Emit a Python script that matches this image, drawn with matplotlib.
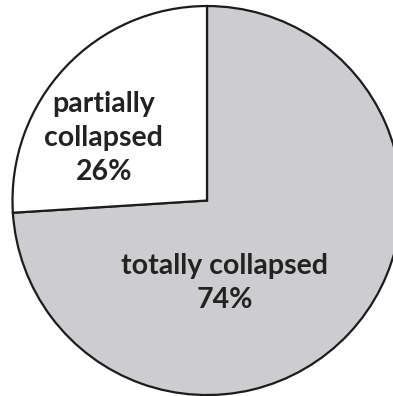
import matplotlib
matplotlib.use("Agg")
import matplotlib.pyplot as plt

labels = ["totally collapsed", "partially collapsed"]
values = [74, 26]
colors = ["#cdcdd0", "#ffffff"]

fig = plt.figure(figsize=(3.93, 3.96), dpi=100)
ax = fig.add_axes([0, 0, 1, 1])
ax.pie(values, colors=colors, startangle=90, counterclock=False,
       wedgeprops=dict(edgecolor="#1c1c1c", linewidth=1.6))
ax.set_xlim(-1.064, 0.956)
ax.set_ylim(-1.005, 1.031)
ax.set_aspect("equal")
ax.axis("off")

font = dict(family="Lato", weight="bold", fontsize=20.5, color="#222222",
            ha="center", va="center", linespacing=1.38)
ax.text(-0.53, 0.322, "partially\ncollapsed\n26%", **font)
ax.text(0.09, -0.425, "totally collapsed\n74%", **font)

fig.savefig("out.png", dpi=100, facecolor="white")
